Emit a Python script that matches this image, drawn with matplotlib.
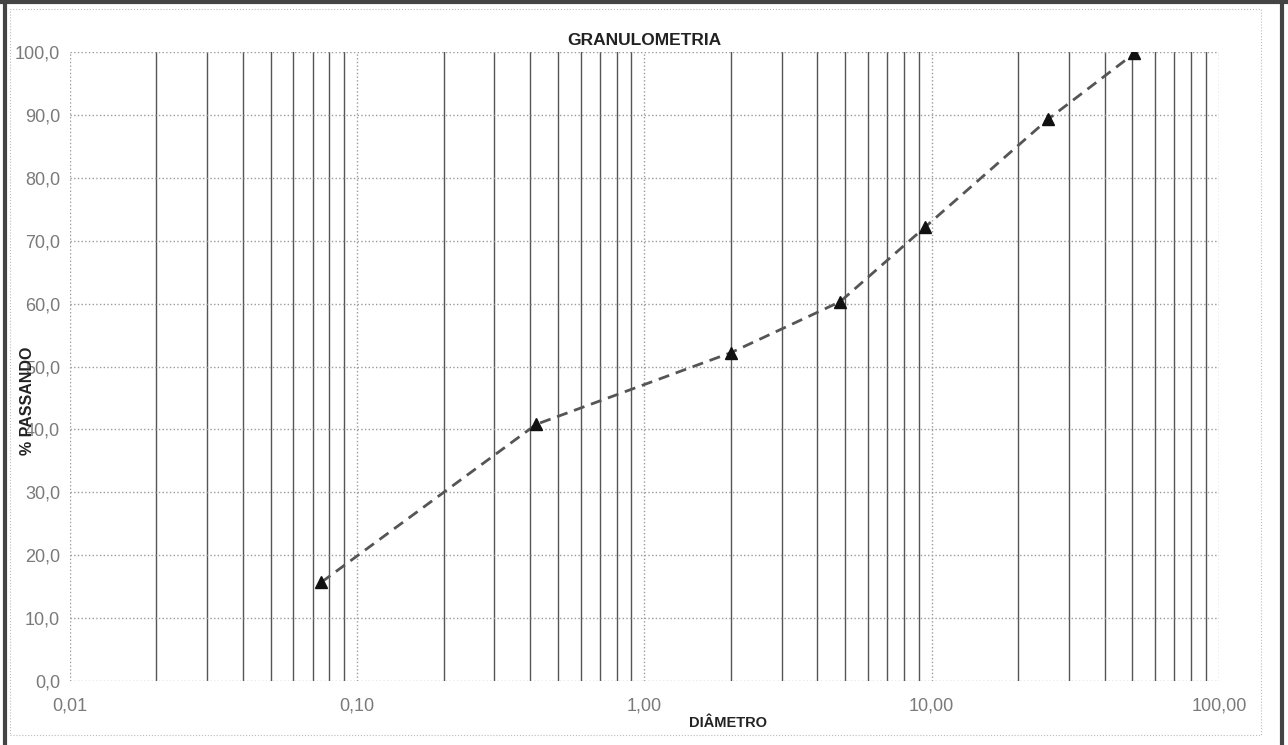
import numpy as np
from matplotlib import pyplot as plt
from matplotlib.lines import Line2D
from matplotlib.patches import Rectangle
from matplotlib.ticker import FixedLocator, LogLocator, NullFormatter

plt.rcParams['font.family'] = ['Liberation Sans', 'DejaVu Sans']

# sieve openings (mm) and % passing
diametro = [0.075, 0.42, 2.0, 4.8, 9.5, 25.4, 50.8]
passando = [15.7, 40.8, 52.2, 60.3, 72.2, 89.3, 99.8]

x_ticks = [0.01, 0.1, 1, 10, 100]
x_labels = ['0,01', '0,10', '1,00', '10,00', '100,00']
y_ticks = np.arange(0, 101, 10)
y_labels = [f'{v:.1f}'.replace('.', ',') for v in y_ticks]

fig = plt.figure(figsize=(12.88, 7.45), dpi=100)
ax = fig.add_axes([0.0543, 0.0859, 0.8921, 0.8443])

ax.plot(diametro, passando, color='#555555', linestyle='--', linewidth=2,
        dashes=(4, 2.5), marker='^', markersize=8.5,
        markerfacecolor='#111111', markeredgecolor='#111111', zorder=5)

ax.set_xscale('log')
ax.set_xlim(0.01, 100)
ax.set_ylim(0, 100)
ax.xaxis.set_major_locator(FixedLocator(x_ticks))
ax.set_xticklabels(x_labels)
ax.xaxis.set_minor_locator(LogLocator(base=10, subs=np.arange(2, 10)))
ax.xaxis.set_minor_formatter(NullFormatter())
ax.set_yticks(y_ticks)
ax.set_yticklabels(y_labels)

ax.grid(True, which='major', axis='both', color='#9a9a9a', linestyle=':', linewidth=1)
ax.grid(True, which='minor', axis='x', color='#555555', linestyle='-', linewidth=1)
for s in ax.spines.values():
    s.set_visible(False)
ax.tick_params(which='both', length=0)
ax.tick_params(axis='y', pad=7, labelsize=13, labelcolor='#7a7a7a')
ax.tick_params(axis='x', pad=12, labelsize=13, labelcolor='#7a7a7a')

ax.set_title('GRANULOMETRIA', fontsize=12.5, fontweight='bold', color='#222222', pad=5)
ax.set_xlabel('DIÂMETRO', fontsize=10.5, fontweight='bold', color='#222222')
ax.xaxis.set_label_coords(0.573, -0.056)
ax.set_ylabel('% PASSANDO', fontsize=11.5, fontweight='bold', color='#222222')
ax.yaxis.set_label_coords(-0.0305, 0.446)

# scanned frame around the chart: dark page edges, light dotted chart-area box
tf = fig.transFigure
for xs, ys in [([0.004, 0.004], [0.0, 0.997]), ([0.995, 0.995], [0.0, 0.997]),
               ([0.0, 1.0], [0.997, 0.997])]:
    fig.lines.append(Line2D(xs, ys, transform=tf, color='#444444', linewidth=3))
fig.patches.append(Rectangle((0.008, 0.013), 0.971, 0.975, transform=tf,
                             fill=False, edgecolor='#bbbbbb', linewidth=0.8, linestyle=':'))

fig.savefig('out.png', dpi=100)
